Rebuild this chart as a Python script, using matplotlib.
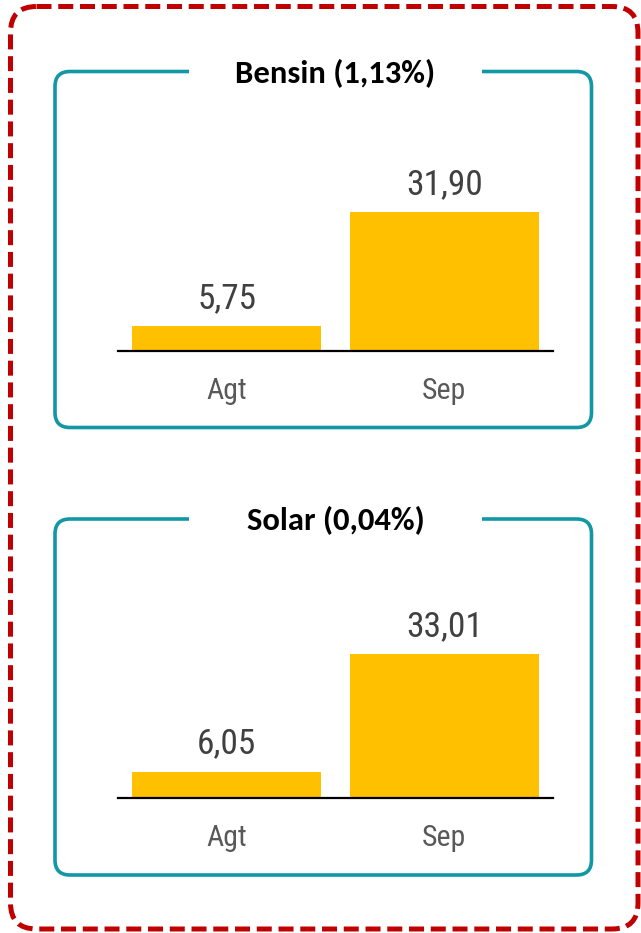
import matplotlib
matplotlib.use("Agg")
import matplotlib.pyplot as plt
from matplotlib.patches import FancyBboxPatch, Rectangle

# ---- data ----
categories = ["Agt", "Sep"]
bensin_values = [5.75, 31.90]
solar_values = [6.05, 33.01]
titles = ["Bensin (1,13%)", "Solar (0,04%)"]

W, H = 641, 933
DPI = 100
fig = plt.figure(figsize=(W / DPI, H / DPI), dpi=DPI)
fig.patch.set_facecolor("white")

RED = "#C00000"
TEAL = "#1297A5"
BAR = "#FFC000"
VAL_COLOR = "#404040"
CAT_COLOR = "#595959"
narrow = ["Roboto Condensed", "Archivo Narrow", "Liberation Sans", "DejaVu Sans"]
boldfont = ["Carlito", "Open Sans", "DejaVu Sans"]

bg = fig.add_axes([0, 0, 1, 1])
bg.set_xlim(0, W)
bg.set_ylim(H, 0)
bg.axis("off")

# outer dashed frame
outer = FancyBboxPatch((10.5, 6.5), 627.5, 922.5,
                       boxstyle="round,pad=0,rounding_size=26",
                       fill=False, edgecolor=RED, linewidth=3.6,
                       linestyle=(0, (3.0, 1.35)))
bg.add_patch(outer)

panels = [(71.5, 427.5, 351, 83.3, bensin_values, titles[0]),
          (519, 875, 798, 530.5, solar_values, titles[1])]

for top, bottom, base, title_base, vals, title in panels:
    box = FancyBboxPatch((55, top), 536.5, bottom - top,
                         boxstyle="round,pad=0,rounding_size=15",
                         fill=False, edgecolor=TEAL, linewidth=2.6)
    bg.add_patch(box)
    bg.add_patch(Rectangle((189, top - 4), 293, 8, facecolor="white",
                           edgecolor="none", zorder=3))
    bg.text(335.5, title_base, title, ha="center", va="baseline",
            fontsize=23.5, fontweight="bold", family=boldfont,
            color="black", zorder=4)

    # bar axes: x from 118 to 553 px, baseline at base, 4.36 px per unit
    scale = 4.36
    ymax = 40
    h_px = ymax * scale
    ax = fig.add_axes([118 / W, 1 - base / H, (553 - 118) / W, h_px / H])
    ax.set_facecolor("none")
    bars = ax.bar(range(len(categories)), vals, width=0.87, color=BAR)
    ax.set_xlim(-0.5, 1.5)
    ax.set_ylim(0, ymax)
    for s in ["top", "left", "right"]:
        ax.spines[s].set_visible(False)
    ax.spines["bottom"].set_color("black")
    ax.spines["bottom"].set_linewidth(1.6)
    ax.set_yticks([])
    ax.set_xticks(range(len(categories)))
    ax.set_xticklabels(categories, family=narrow, fontsize=21.5, color=CAT_COLOR)
    ax.tick_params(axis="x", length=0, pad=19)
    ax.bar_label(bars, labels=[f"{v:.2f}".replace(".", ",") for v in vals],
                 padding=8, family=narrow, fontsize=25.5, color=VAL_COLOR)

fig.savefig("out.png", dpi=DPI, facecolor="white")
